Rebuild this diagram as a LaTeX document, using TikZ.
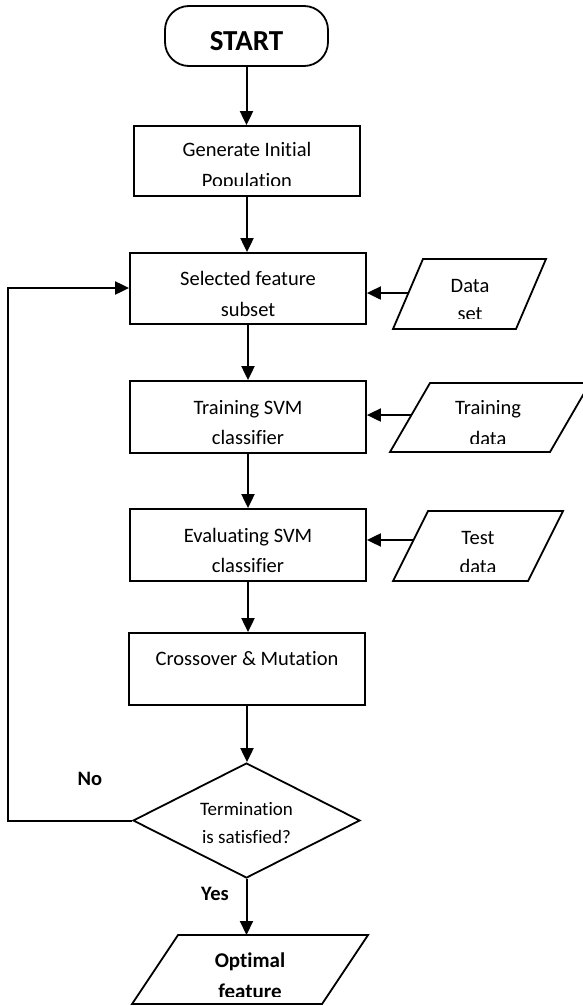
\documentclass[tikz,border=0pt]{standalone}
\usepackage{fontspec}
\setmainfont{Carlito}[Ligatures={NoCommon}]
\usetikzlibrary{shapes.geometric,arrows.meta,calc}
\begin{document}
\begin{tikzpicture}[x=1pt,y=-1pt,
  shp/.style={draw=black, line width=1.8pt, inner sep=0pt},
  box/.style={shp, rectangle, minimum width=236pt, minimum height=72pt},
  para/.style={draw=black, line width=1.8pt, line join=miter},
  arr/.style={line width=2pt, -{Triangle[length=14pt,width=13pt]}},
  txt/.style={inner sep=0pt, anchor=base, font=\fontsize{20.5}{20.5}\selectfont},
  btxt/.style={inner sep=0pt, anchor=base, font=\fontsize{21}{21}\selectfont\bfseries}]
\useasboundingbox (0,0) rectangle (582,1006);
\fill[white] (0,0) rectangle (582,1006);

% shapes
\node[shp, rectangle, rounded corners=24pt, minimum width=163pt, minimum height=60pt] (start) at (246.5,36) {};
\node[box, minimum width=226pt, minimum height=70pt] (gen) at (247,161) {};
\node[box, minimum height=71pt] (sel) at (248,288.5) {};
\node[box] (train) at (248,417) {};
\node[box] (eval) at (248,545) {};
\node[box] (cross) at (247,669) {};
\node[shp, diamond, minimum width=227pt, minimum height=115pt] (term) at (246.5,820.5) {};

% parallelograms
\coordinate (dBL) at (393,329); \coordinate (dTL) at (423,259);
\coordinate (dTR) at (546,259); \coordinate (dBR) at (516,329);
\draw[para] (dBL) -- (dTL) -- (dTR) -- (dBR) -- cycle;
\coordinate (tBL) at (390,452); \coordinate (tTL) at (430,383);
\coordinate (tTR) at (590,383); \coordinate (tBR) at (550,452);
\draw[para] (tBL) -- (tTL) -- (tTR) -- (tBR) -- cycle;
\coordinate (eBL) at (393,581); \coordinate (eTL) at (428,511);
\coordinate (eTR) at (563,511); \coordinate (eBR) at (528,581);
\draw[para] (eBL) -- (eTL) -- (eTR) -- (eBR) -- cycle;
\coordinate (oBL) at (132,1004); \coordinate (oTL) at (178,935);
\coordinate (oTR) at (368,935); \coordinate (oBR) at (322,1004);
\draw[para] (oBL) -- (oTL) -- (oTR) -- (oBR) -- cycle;

% texts
\node[inner sep=0pt, anchor=base, font=\fontsize{29}{29}\selectfont\bfseries] (tstart) at (246.5,51) {START};
\node[txt] (tgen1) at (247,157) {Generate Initial};
\begin{scope}
  \clip (0,100) rectangle (582,185);
  \node[txt] (tgen2) at (247,187) {Population};
\end{scope}
\node[txt] (tsel1) at (248,285) {Selected feature};
\node[txt] (tsel2) at (248,316) {subset};
\node[txt] (ttr1) at (248,414) {Training SVM};
\node[txt] (ttr2) at (248,444) {classifier};
\node[txt] (tev1) at (248,542) {Evaluating SVM};
\node[txt] (tev2) at (248,572) {classifier};
\node[txt] (tcr) at (247,665) {Crossover \& Mutation};
\node[txt, font=\fontsize{19}{19}\selectfont] (tte1) at (246.5,815) {Termination};
\node[txt, font=\fontsize{19}{19}\selectfont] (tte2) at (246.5,843) {is satisfied?};
\node[txt] (tda1) at (470,292) {Data};
\begin{scope}
  \clip (0,295) rectangle (582,318);
  \node[txt] (tda2) at (470,320) {set};
\end{scope}
\node[txt] (ttd1) at (488,414) {Training};
\begin{scope}
  \clip (0,420) rectangle (582,443);
  \node[txt] (ttd2) at (488,445) {data};
\end{scope}
\node[txt] (tts1) at (478,544) {Test};
\begin{scope}
  \clip (0,550) rectangle (582,571.5);
  \node[txt] (tts2) at (478,573.5) {data};
\end{scope}
\node[btxt] (top1) at (250,967) {Optimal};
\begin{scope}
  \clip (0,975) rectangle (582,996);
  \node[btxt] (top2) at (250,998) {feature};
\end{scope}
\node[btxt, font=\fontsize{20.5}{20.5}\selectfont\bfseries] (tno) at (90,785) {No};
\node[btxt, font=\fontsize{20.5}{20.5}\selectfont\bfseries] (tyes) at (215,900) {Yes};

% connectors
\coordinate (fb) at (8,288);
\draw[arr] (start.south) -- (start.south |- gen.north);
\draw[arr] (gen.south) -- (gen.south |- sel.north);
\draw[arr] (sel.south) -- (sel.south |- train.north);
\draw[arr] (train.south) -- (train.south |- eval.north);
\draw[arr] (eval.south) -- (eval.south |- cross.north);
\draw[arr] (cross.south) -- (cross.south |- term.north);
\draw[arr] (term.south) -- (term.south |- oTL);
\draw[arr] (term.west) -| (fb) -- (fb -| sel.west);
\coordinate (pd) at ($(dBL)!0.514!(dTL)$);
\coordinate (pt) at ($(tBL)!0.536!(tTL)$);
\coordinate (pe) at ($(eBL)!0.586!(eTL)$);
\draw[arr] (pd) -- (pd -| sel.east);
\draw[arr] (pt) -- (pt -| train.east);
\draw[arr] (pe) -- (pe -| eval.east);
\end{tikzpicture}
\end{document}
